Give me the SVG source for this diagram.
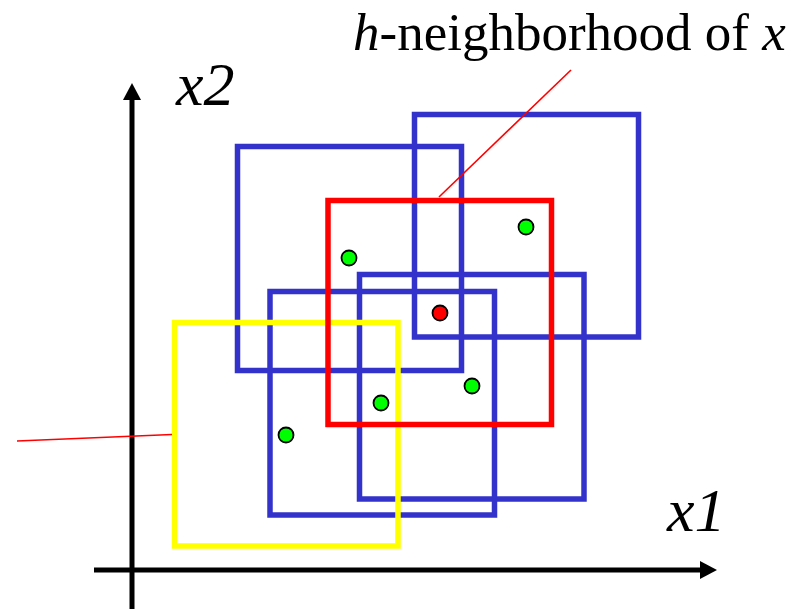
<svg xmlns="http://www.w3.org/2000/svg" width="809" height="609" viewBox="0 0 809 609">
<style>
.box{fill:none;stroke-width:5.5}
.blue{stroke:#3333CC}
.red{stroke:#FF0000}
.yellow{stroke:#FFFF00}
.dot{stroke:#000;stroke-width:1.8}
.lbl{font-family:"Liberation Serif","Times New Roman",serif;fill:#000}
.it{font-style:italic}
.ax{stroke:#000;stroke-width:5;fill:none}
.lead{stroke:#FF0000;stroke-width:1.6;fill:none}
</style>
<rect width="809" height="609" fill="#fff"/>
<g id="axes">
<line class="ax" x1="132" y1="609" x2="132" y2="98"/>
<polygon points="132,83 123,100 141,100" fill="#000"/>
<line class="ax" x1="94" y1="570" x2="702" y2="570"/>
<polygon points="717,570 700,561 700,579" fill="#000"/>
</g>
<g id="box-blue1"><rect class="box blue" x="237.5" y="146.5" width="224" height="224"/></g>
<g id="box-blue2"><rect class="box blue" x="414.5" y="114.5" width="224" height="222.5"/></g>
<g id="box-blue3"><rect class="box blue" x="270" y="291.5" width="224.5" height="223.5"/></g>
<g id="box-blue4"><rect class="box blue" x="359.5" y="274.5" width="224.5" height="224.5"/></g>
<g id="box-yellow"><rect class="box yellow" x="174.5" y="322.5" width="223.5" height="223.5"/></g>
<g id="box-red"><rect class="box red" x="328" y="200.5" width="223.5" height="224"/></g>
<g id="points">
<circle class="dot" cx="526" cy="227" r="7.5" fill="#00FF00"/>
<circle class="dot" cx="349" cy="258" r="7.5" fill="#00FF00"/>
<circle class="dot" cx="381" cy="403" r="7.5" fill="#00FF00"/>
<circle class="dot" cx="472" cy="386" r="7.5" fill="#00FF00"/>
<circle class="dot" cx="286" cy="435" r="7.5" fill="#00FF00"/>
<circle class="dot" cx="440" cy="313" r="7.5" fill="#FF0000"/>
</g>
<g id="connectors">
<line class="lead" x1="571" y1="70" x2="439" y2="197"/>
<line class="lead" x1="17" y1="441" x2="172" y2="434.5"/>
</g>
<g id="labels">
<text class="lbl it" x="176" y="105" font-size="62">x2</text>
<text class="lbl it" x="667" y="531" font-size="62">x1</text>
<text class="lbl" x="353" y="50" font-size="53"><tspan class="it">h</tspan>-neighborhood of <tspan class="it">x</tspan></text>
</g>
</svg>
